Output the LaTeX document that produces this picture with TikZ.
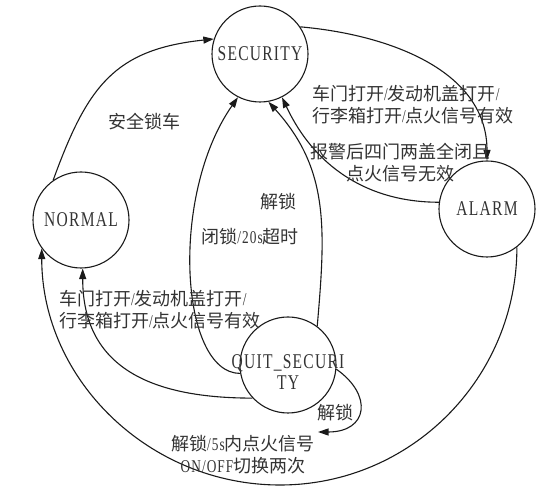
\documentclass[tikz,border=0pt]{standalone}
\usepackage{fontspec}
\setmainfont{Liberation Serif}[FakeStretch=0.74, LetterSpace=6]
\newfontfamily\cjk{Noto Sans CJK SC}
\usetikzlibrary{arrows.meta, positioning, calc}
\definecolor{ink}{HTML}{1A1A1A}
\definecolor{inktext}{HTML}{333333}
\newcommand{\zh}[1]{{\cjk #1}}

\begin{document}
\begin{tikzpicture}[x=1pt, y=1pt, color=ink,
  state/.style={draw, circle, line width=1.1pt, minimum size=96pt, inner sep=0pt,
    text=inktext, font=\fontsize{21}{21}\selectfont},
  edge/.style={line width=1.1pt, -{Triangle[length=10.5pt, width=7pt]}},
  lbl/.style={inner sep=0pt, text=inktext, font=\fontsize{18}{22}\selectfont}]
  \useasboundingbox (0,0) rectangle (559,492);

  \node[state] (sec) at (260,438) {SECURITY};
  \node[state] (normal) at (81,272) {NORMAL};
  \node[state] (alarm) at (487,283) {ALARM};
  \node[state] (quit) at (288,127) {};
  \node[align=center, inner sep=0pt, text=inktext, font=\fontsize{21}{21}\selectfont]
    (quitname) at (288,120) {QUIT\_SECURI\\TY};

  \draw[edge] (normal.125) to[out=70, in=186, looseness=1.2] (sec.162);
  \draw[edge] (sec.34) to[out=-5, in=90] (alarm.90);
  \draw[edge] (alarm.172) to[out=180, in=-65] (sec.297);
  \draw[edge] (quit.190) to[out=180, in=235, out distance=60pt, in distance=120pt] (sec.243);
  \draw[edge] (quit.53) to[out=85, in=-48, out distance=100pt, in distance=90pt] (sec.280);
  \draw[edge] (quit.223) to[out=180, in=-90, out distance=100pt, in distance=100pt] (normal.272);
  \coordinate (arcbot) at (280,7);
  \draw[edge] (alarm.308) to[out=-90, in=0, out distance=131pt, in distance=131pt] (arcbot)
    to[out=180, in=-90, out distance=131pt, in distance=131pt] (normal.216);
  \coordinate (loopend) at (318,60);
  \draw[edge] (quit.-5) to[out=-35, in=0, out distance=45pt, in distance=50pt] (loopend);

  \node[lbl] (lockcar) at (144,370) {\zh{安全锁车}};
  \node[lbl, anchor=west, align=left] (sectoalarm) at (312,387)
    {\zh{车门打开}/\zh{发动机盖打开}/\\\zh{行李箱打开}/\zh{点火信号有效}};
  \node[lbl, align=center] (alarmtosec) at (400,329)
    {\zh{报警后四门两盖全闭且}\\\zh{点火信号无效}};
  \node[lbl] (unlock) at (278,290) {\zh{解锁}};
  \node[lbl] (closelock) at (250,255) {\zh{闭锁}/20s\zh{超时}};
  \node[lbl, anchor=west, align=left] (quittonormal) at (59,182)
    {\zh{车门打开}/\zh{发动机盖打开}/\\\zh{行李箱打开}/\zh{点火信号有效}};
  \node[lbl, align=center] (alarmtonormal) at (243,37)
    {\zh{解锁}/5s\zh{内点火信号}\\ON/OFF\zh{切换两次}};
  \node[lbl] (selfunlock) at (335,79) {\zh{解锁}};
\end{tikzpicture}
\end{document}
